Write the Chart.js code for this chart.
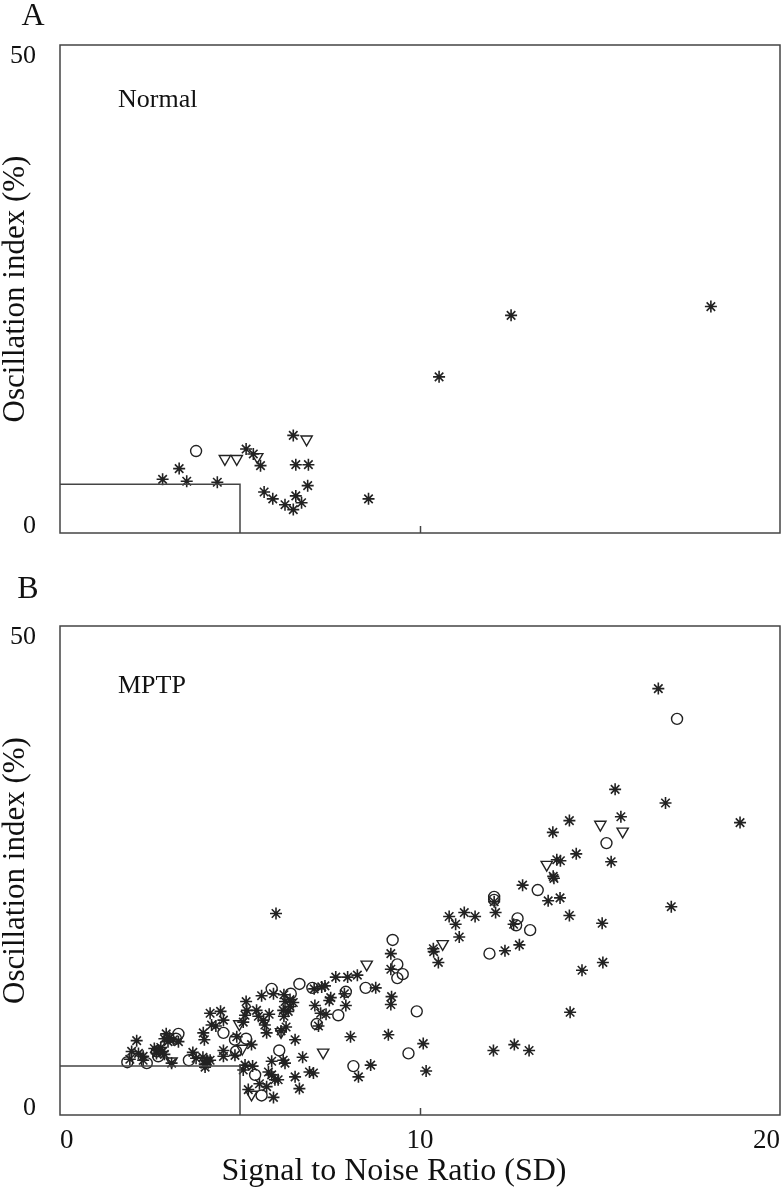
<!DOCTYPE html>
<html>
<head>
<meta charset="utf-8">
<script src="https://cdn.jsdelivr.net/npm/chart.js@4.4.1/dist/chart.umd.min.js"></script>
<style>
  html, body { margin: 0; padding: 0; background: #fff; overflow: hidden; }
  canvas { display: block; }
  #wrapA { position: absolute; left: 0; top: 0; width: 782px; height: 545px; }
  #wrapB { position: absolute; left: 0; top: 560px; width: 782px; height: 639px; }
</style>
</head>
<body>
<div id="wrapA"><canvas id="ctxA"></canvas></div>
<div id="wrapB"><canvas id="ctxB"></canvas></div>
<script>
// axis ranges / ticks
const xRange = [0, 20];
const yRange = [0, 50];
const xTickLabels = [0, 10, 20];
const yTickLabels = [0, 50];

// threshold box (SNR 5 SD, oscillation index 5 %)
const thresholdLine = [[0, 5], [5, 5], [5, 0]];

// Panel A - Normal  [SNR, oscillation index]
const normalStar = [[2.85,5.5],[3.31,6.6],[3.52,5.3],[4.37,5.2],[5.17,8.6],[5.37,8.1],[5.57,6.9],
  [6.48,10.0],[6.55,7.0],[6.9,7.0],[6.88,4.85],[5.67,4.2],[5.91,3.5],[6.25,2.9],[6.48,2.4],
  [6.55,3.8],[6.71,3.1],[8.57,3.5],[10.53,16.0],[12.53,22.3],[18.08,23.2]];
const normalCircle = [[3.78,8.4]];
const normalTriangle = [[4.58,7.6],[4.91,7.6],[5.48,7.8],[6.85,9.6]];

// Panel B - MPTP
const mptpStar = [[2.13,7.6],[1.99,6.5],[1.94,5.7],[2.18,6.3],[2.31,6.0],[2.31,5.6],
  [2.62,6.8],[2.75,6.6],[2.68,6.3],[2.85,6.5],[2.8,6.9],[2.9,6.2],
  [2.95,8.3],[3.05,7.9],[2.9,7.8],[3.0,7.5],[3.15,7.7],
  [3.29,7.5],[3.1,5.3],[3.69,6.4],[3.78,5.8],[3.97,5.9],[4.08,5.6],[4.02,5.2],[4.1,5.5],[4.03,4.9],
  [3.98,8.4],[4.01,7.7],
  [4.17,10.4],[4.46,10.6],[4.33,9.1],[4.54,9.7],[4.21,9.2],
  [4.54,6.6],[4.54,6.0],[4.86,6.1],[4.17,5.6],
  [4.91,8.0],[5.17,11.6],[5.19,10.7],[5.14,10.2],
  [5.09,9.5],[5.09,4.6],[5.14,5.1],[5.35,5.0],[5.32,7.2],[5.23,2.6],[5.54,3.2],
  [5.46,10.7],[5.51,10.1],[5.65,9.7],[5.69,9.2],[5.74,8.4],[5.6,12.2],[5.81,10.3],
  [6.14,8.6],[6.28,9.0],[5.93,12.4],[6.22,12.3],[6.25,11.6],[6.39,11.8],[6.48,11.5],
  [6.2,10.7],[6.34,10.6],[6.39,11.1],[6.22,10.1],
  [6.53,7.7],[6.2,5.6],[6.25,5.3],[5.88,5.5],[5.79,4.4],[5.88,4.1],[5.97,3.6],[6.06,3.6],
  [5.74,2.9],[5.93,1.8],[6.53,3.9],[6.65,2.7],[6.74,5.9],[6.93,4.4],[7.04,4.3],
  [6.0,20.6],
  [7.06,12.9],[7.27,13.1],[7.36,13.2],[7.52,12.0],[7.48,11.7],[7.9,12.4],[7.94,11.2],
  [7.08,11.2],[7.24,10.4],[7.39,10.3],[7.18,9.1],
  [7.66,14.1],[7.99,14.1],[8.26,14.3],[8.77,13.0],[9.21,12.1],[9.19,11.3],[9.19,14.9],[9.19,16.5],
  [8.07,8.0],[8.63,5.1],[8.29,3.9],[9.12,8.2],[10.09,7.3],[10.17,4.5],
  [10.38,16.7],[10.51,15.6],[10.37,17.0],[10.81,20.3],[11.23,20.7],[11.53,20.3],[10.99,19.5],[11.09,18.2],
  [12.36,16.8],[12.76,17.4],[12.1,20.7],[12.06,21.8],[12.6,19.5],[12.85,23.5],[13.56,21.9],[13.89,22.2],
  [13.7,24.4],[13.72,24.2],[13.8,26.1],[13.9,26.0],[13.69,28.9],[14.15,30.1],[14.34,26.7],
  [15.31,25.9],[15.42,33.3],[15.58,30.5],[16.82,31.9],[16.62,43.6],[18.89,29.9],
  [14.15,20.4],[15.06,19.6],[16.98,21.3],[15.08,15.6],[14.5,14.8],[14.17,10.5],
  [12.04,6.6],[12.62,7.2],[13.03,6.6]];
const mptpCircle = [[1.87,5.4],[2.41,5.3],[2.69,6.5],[2.73,6.0],[3.29,8.3],[3.22,7.8],[3.58,5.6],
  [4.54,8.4],[4.89,6.5],[4.86,7.7],[5.17,7.8],
  [5.42,4.1],[5.6,2.0],[6.09,6.6],[5.88,12.9],[6.41,12.4],[6.65,13.4],[7.01,13.0],[7.94,12.6],
  [7.73,10.2],[7.13,9.3],
  [8.49,13.0],[8.15,5.0],[9.68,6.3],[9.91,10.6],[9.24,17.9],[9.37,15.4],[9.52,14.4],[9.37,14.0],
  [11.93,16.5],[12.71,20.1],[12.67,19.4],[13.06,18.9],[12.06,22.3],[12.06,22.0],[13.27,23.0],
  [15.18,27.8],[17.14,40.5]];
const mptpTriangle = [[3.1,5.5],[4.98,9.3],[5.06,6.8],[5.32,2.1],[6.14,8.5],[7.31,6.4],
  [8.52,15.4],[10.63,17.5],[13.52,25.6],[15.01,29.7],[15.63,29.0]];

const ink = '#222';
Chart.defaults.font.family = '"Liberation Serif", "Times New Roman", serif';
Chart.defaults.color = '#111';

const toXY = arr => arr.map(p => ({ x: p[0], y: p[1] }));

// frame, inward tick at 10, y tick labels, x title, panel letter and group name
const framePlugin = {
  id: 'frame',
  afterDraw(chart, args, opts) {
    const c = chart.ctx;
    const a = chart.chartArea;
    const xs = chart.scales.x, ys = chart.scales.y;
    c.save();
    c.strokeStyle = '#444';
    c.lineWidth = 1.5;
    c.strokeRect(a.left, a.top, a.right - a.left, a.bottom - a.top);
    const tx = Math.round(xs.getPixelForValue(xTickLabels[1])) + 0.5;
    c.beginPath();
    c.moveTo(tx, a.bottom);
    c.lineTo(tx, a.bottom - 7);
    c.stroke();
    c.fillStyle = '#111';
    c.font = '26px "Liberation Serif"';
    c.textAlign = 'right';
    c.textBaseline = 'middle';
    c.fillText(String(yTickLabels[1]), 36, ys.getPixelForValue(yTickLabels[1]) + 11);
    c.fillText(String(yTickLabels[0]), 36, ys.getPixelForValue(yTickLabels[0]) - 7);
    c.textAlign = 'left';
    c.fillText(opts.group, a.left + 58, a.top + opts.groupDy);
    c.textAlign = 'center';
    if (opts.xTitle) {
      c.font = '32px "Liberation Serif"';
      c.fillText(opts.xTitle, (a.left + a.right) / 2 - 26, a.bottom + 57);
    }
    c.font = '32px "Liberation Serif"';
    c.fillText(opts.letter, opts.letterX, opts.letterY);
    c.restore();
  }
};

function makeChart(el, stars, circles, triangles, o) {
  return new Chart(el, {
    type: 'scatter',
    data: {
      datasets: [
        {
          type: 'line',
          data: toXY(thresholdLine),
          borderColor: '#444',
          borderWidth: 1.5,
          pointRadius: 0,
          fill: false,
          tension: 0
        },
        {
          data: toXY(stars),
          pointStyle: 'star',
          pointRadius: 6,
          pointBorderWidth: 1.6,
          pointBorderColor: ink,
          pointBackgroundColor: ink
        },
        {
          data: toXY(circles),
          pointStyle: 'circle',
          pointRadius: 5.5,
          pointBorderWidth: 1.4,
          pointBorderColor: ink,
          pointBackgroundColor: 'rgba(0,0,0,0)'
        },
        {
          data: toXY(triangles),
          pointStyle: 'triangle',
          rotation: 180,
          pointRadius: 6.5,
          pointBorderWidth: 1.4,
          pointBorderColor: ink,
          pointBackgroundColor: 'rgba(0,0,0,0)'
        }
      ]
    },
    options: {
      responsive: true,
      maintainAspectRatio: false,
      animation: false,
      events: [],
      layout: { autoPadding: false, padding: { top: o.padTop, right: 2, left: 0, bottom: 0 } },
      plugins: {
        legend: { display: false },
        tooltip: { enabled: false },
        frame: o.frame
      },
      scales: {
        x: {
          type: 'linear',
          min: xRange[0],
          max: xRange[1],
          border: { display: false },
          grid: { display: false, drawTicks: false },
          ticks: {
            display: o.showX,
            stepSize: 10,
            align: 'inner',
            padding: 10,
            font: { size: 27 },
            color: '#111'
          },
          afterFit: s => {
            s.height = o.xHeight;
            s.paddingLeft = 0;
            s.paddingRight = 0;
          }
        },
        y: {
          type: 'linear',
          min: yRange[0],
          max: yRange[1],
          border: { display: false },
          grid: { display: false, drawTicks: false },
          ticks: { display: false },
          title: {
            display: true,
            text: 'Oscillation index (%)',
            font: { size: 31, lineHeight: 1 },
            padding: 0,
            color: '#111'
          },
          afterFit: s => { s.width = 60; }
        }
      }
    },
    plugins: [framePlugin]
  });
}

makeChart(document.getElementById('ctxA'), normalStar, normalCircle, normalTriangle, {
  padTop: 45, xHeight: 12, showX: false,
  frame: { group: 'Normal', groupDy: 55, letter: 'A', letterX: 33, letterY: 17 }
});
makeChart(document.getElementById('ctxB'), mptpStar, mptpCircle, mptpTriangle, {
  padTop: 66, xHeight: 84, showX: true,
  frame: { group: 'MPTP', groupDy: 60, letter: 'B', letterX: 28, letterY: 30,
           xTitle: 'Signal to Noise Ratio (SD)' }
});
</script>
</body>
</html>
